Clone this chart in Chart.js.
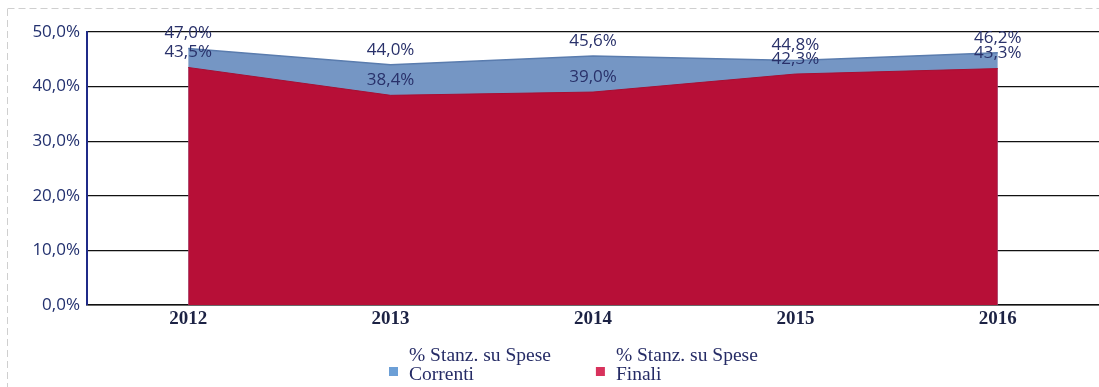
<!DOCTYPE html>
<html>
<head>
<meta charset="utf-8">
<script src="https://cdn.jsdelivr.net/npm/chart.js@4/dist/chart.umd.min.js"></script>
<style>
  html, body { margin: 0; padding: 0; background: #fff; }
  #wrap { width: 1099px; height: 387px; }
</style>
</head>
<body>
<div id="wrap"><canvas id="c"></canvas></div>
<script>
// dati
const anni = ['2012', '2013', '2014', '2015', '2016'];
const speseCorrenti = [47.0, 44.0, 45.6, 44.8, 46.2];
const speseFinali = [43.5, 38.4, 39.0, 42.3, 43.3];
const yTicks = [0, 10, 20, 30, 40, 50];
const legendaCorrenti = ['% Stanz. su Spese', 'Correnti'];
const legendaFinali = ['% Stanz. su Spese', 'Finali'];

const fmt = v => v.toFixed(1).replace('.', ',') + '%';

// etichette valori sopra ai punti
const valueLabels = {
    id: 'valueLabels',
    afterDatasetsDraw(chart) {
        const ctx = chart.ctx;
        ctx.save();
        ctx.font = '17px "Open Sans", sans-serif';
        ctx.fillStyle = '#29316a';
        ctx.textAlign = 'center';
        ctx.textBaseline = 'middle';
        chart.data.datasets.forEach((ds, i) => {
            const meta = chart.getDatasetMeta(i);
            meta.data.forEach((pt, j) => {
                ctx.fillText(fmt(ds.data[j]), pt.x, pt.y - 15);
            });
        });
        ctx.restore();
    }
};

// legenda con quadratino sulla seconda riga, come nell'originale
const legendaSotto = {
    id: 'legendaSotto',
    afterDraw(chart) {
        const ctx = chart.ctx;
        const items = chart.data.datasets.slice().reverse();
        let x = 389;
        ctx.save();
        ctx.font = '19.5px "Liberation Serif", serif';
        ctx.textBaseline = 'middle';
        ctx.textAlign = 'left';
        items.forEach(ds => {
            ctx.fillStyle = ds.legendColor;
            ctx.fillRect(x, 367, 9, 9);
            ctx.fillStyle = '#262c66';
            const tx = x + 20;
            ds.label.forEach((line, k) => ctx.fillText(line, tx, 356 + k * 19));
            const w = Math.max(...ds.label.map(l => ctx.measureText(l).width));
            x = tx + w + 45;
        });
        ctx.restore();
    }
};

// cornice tratteggiata chiara della scansione
const cornice = {
    id: 'cornice',
    beforeDraw(chart) {
        const ctx = chart.ctx;
        ctx.save();
        ctx.strokeStyle = '#cfcfcf';
        ctx.lineWidth = 1;
        ctx.setLineDash([7, 4]);
        ctx.beginPath();
        ctx.moveTo(7.5, 9);
        ctx.lineTo(7.5, chart.height);
        ctx.moveTo(7.5, 8.5);
        ctx.lineTo(chart.width, 8.5);
        ctx.stroke();
        ctx.restore();
    }
};

new Chart(document.getElementById('c'), {
    type: 'line',
    data: {
        labels: anni,
        datasets: [
            {
                label: legendaFinali,
                data: speseFinali,
                backgroundColor: '#b70f37',
                borderColor: '#a80e32',
                borderWidth: 1,
                legendColor: '#d8325c',
                fill: 'origin',
                pointRadius: 0,
                tension: 0
            },
            {
                label: legendaCorrenti,
                data: speseCorrenti,
                backgroundColor: '#7596c4',
                borderColor: '#5a7cae',
                borderWidth: 1.5,
                legendColor: '#6c9fd6',
                fill: 'origin',
                pointRadius: 0,
                tension: 0
            }
        ]
    },
    options: {
        responsive: true,
        maintainAspectRatio: false,
        animation: false,
        layout: { padding: { top: 32, right: 0, left: 0, bottom: 52 } },
        scales: {
            x: {
                offset: true,
                grid: { display: false, drawTicks: false },
                border: { display: true, color: '#111', width: 1.5 },
                ticks: { color: '#1c2244', padding: 3, font: { family: '"Liberation Serif", serif', size: 19, weight: 'bold' } },
                afterFit: s => { s.height = 30; }
            },
            y: {
                min: 0,
                max: 50,
                afterBuildTicks: s => { s.ticks = yTicks.map(v => ({ value: v })); },
                grid: { color: '#111', lineWidth: 1.3, drawTicks: false },
                border: { display: true, color: '#1f2a88', width: 2 },
                ticks: { color: '#22306e', padding: 7, font: { family: '"Open Sans", sans-serif', size: 17 }, callback: v => fmt(v) },
                afterFit: s => { s.width = 87; }
            }
        },
        plugins: {
            legend: { display: false },
            tooltip: { enabled: false }
        }
    },
    plugins: [cornice, valueLabels, legendaSotto]
});
</script>
</body>
</html>
